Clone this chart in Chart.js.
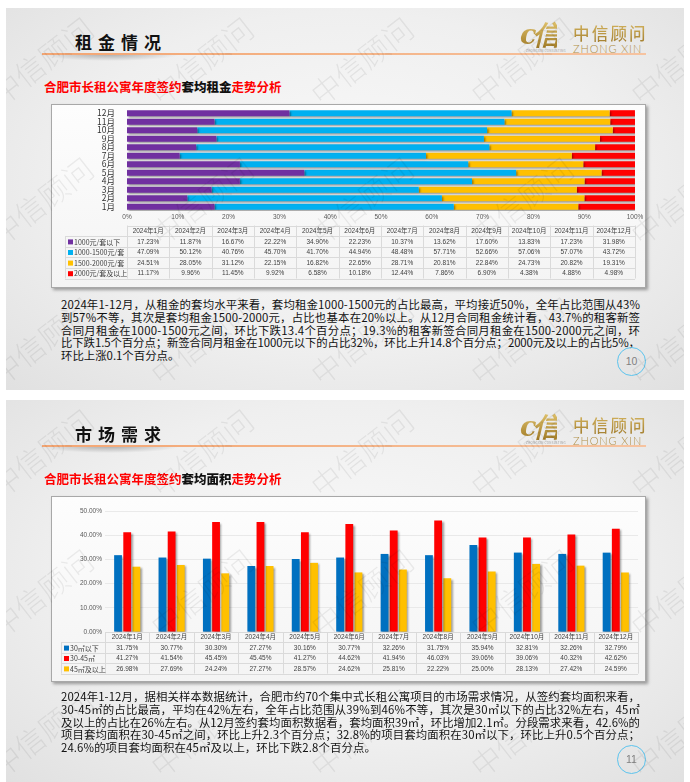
<!DOCTYPE html>
<html><head><meta charset="utf-8">
<script src="https://cdn.jsdelivr.net/npm/chart.js@4.4.1/dist/chart.umd.min.js"></script>
<style>
html,body{margin:0;padding:0;background:#fff;width:690px;height:782px;overflow:hidden;font-family:"Noto Sans CJK SC","Noto Sans",sans-serif;}
.slide{position:absolute;left:6px;width:678px;height:382px;overflow:hidden;
  background:radial-gradient(ellipse 75% 80% at 50% 45%, #f9f9f9 0%, #efefef 55%, #dfdfdf 100%);}
.title{position:absolute;left:69px;top:23px;font-size:17px;font-weight:bold;letter-spacing:6px;color:#111;line-height:22px;white-space:nowrap;}
.oline{position:absolute;left:36px;top:45px;width:604px;height:1.5px;background:linear-gradient(to right,#f3a674,#f4b183 40%,#f6c3a0);}
.oshadow{position:absolute;left:34px;top:46px;width:140px;height:7px;background:radial-gradient(ellipse 50% 100% at 50% 0%,rgba(0,0,0,0.28),rgba(0,0,0,0) 100%);}
.logo1{position:absolute;left:514px;top:12px;font-family:"DejaVu Serif",serif;font-style:italic;font-weight:bold;font-size:27px;line-height:30px;letter-spacing:-3px;
  background:linear-gradient(#e2c46e,#9c7622);-webkit-background-clip:text;background-clip:text;color:transparent;}
.logotiny{position:absolute;left:520px;top:41px;font-size:3px;color:#999;letter-spacing:0.3px;}
.logo2{position:absolute;left:567px;top:14px;font-size:16.5px;letter-spacing:2.2px;line-height:22px;font-weight:500;
  background:linear-gradient(#d6b660,#a07b2c);-webkit-background-clip:text;background-clip:text;color:transparent;white-space:nowrap;}
.logo3{position:absolute;left:567px;top:34px;font-family:"Lato","Liberation Sans",sans-serif;font-weight:300;font-size:11px;letter-spacing:0.9px;line-height:14px;color:#b08f48;white-space:nowrap;}
.sub{position:absolute;left:38px;top:70px;font-size:12.5px;font-weight:bold;line-height:18px;white-space:nowrap;color:#ff0000;}
.sub b{color:#111;}
.box{position:absolute;left:45px;top:96px;width:593px;border:1px solid #a8a8a8;box-shadow:2px 2px 3px rgba(0,0,0,0.35);
  background:linear-gradient(to bottom,#fdfdfd,#f4f4f4);}
.box canvas{display:block;}
.para{position:absolute;left:55px;top:290px;font-size:11.4px;line-height:12.8px;color:#111;}
.para span{display:block;white-space:nowrap;}
.circle{position:absolute;width:27px;height:27px;border:1.5px solid #5cc4ee;border-radius:50%;text-align:center;line-height:27px;font-family:"Liberation Sans",sans-serif;font-size:10.5px;color:#808080;}
.wm{position:absolute;font-size:30px;color:rgba(0,0,0,0.065);transform:rotate(-38deg);white-space:nowrap;pointer-events:none;font-weight:300;}
</style></head>
<body>
<div class="slide" id="s1" style="top:8px;">
  <div class="title">租金情况</div>
  <div class="oshadow"></div><div class="oline"></div>
  <div class="logo1">c信</div><div class="logotiny">ZHONGXIN CONSULTING</div>
  <div class="logo2">中信顾问</div><div class="logo3">ZHONG XIN</div>
  <div class="sub">合肥市长租公寓年度签约<b>套均租金</b>走势分析</div>
  <div class="box" style="height:182px;"><canvas id="c1" width="593" height="182"></canvas></div>
  <div class="para"><span>2024年1-12月，从租金的套均水平来看，套均租金1000-1500元的占比最高，平均接近50%，全年占比范围从43%</span><span>到57%不等，其次是套均租金1500-2000元，占比也基本在20%以上。从12月合同租金统计看，43.7%的租客新签</span><span>合同月租金在1000-1500元之间，环比下跌13.4个百分点；19.3%的租客新签合同月租金在1500-2000元之间，环</span><span>比下跌1.5个百分点；新签合同月租金在1000元以下的占比32%，环比上升14.8个百分点；2000元及以上的占比5%，</span><span>环比上涨0.1个百分点。</span></div>
  <div class="circle" style="left:611px;top:339px;">10</div>
</div>
<div class="slide" id="s2" style="top:400px;">
  <div class="title">市场需求</div>
  <div class="oshadow"></div><div class="oline"></div>
  <div class="logo1">c信</div><div class="logotiny">ZHONGXIN CONSULTING</div>
  <div class="logo2">中信顾问</div><div class="logo3">ZHONG XIN</div>
  <div class="sub">合肥市长租公寓年度签约<b>套均面积</b>走势分析</div>
  <div class="box" style="height:184px;"><canvas id="c2" width="593" height="184"></canvas></div>
  <div class="para"><span>2024年1-12月，据相关样本数据统计，合肥市约70个集中式长租公寓项目的市场需求情况，从签约套均面积来看，</span><span>30-45㎡的占比最高，平均在42%左右，全年占比范围从39%到46%不等，其次是30㎡以下的占比32%左右，45㎡</span><span>及以上的占比在26%左右。从12月签约套均面积数据看，套均面积39㎡，环比增加2.1㎡。分段需求来看，42.6%的</span><span>项目套均面积在30-45㎡之间，环比上升2.3个百分点；32.8%的项目套均面积在30㎡以下，环比上升0.5个百分点；</span><span>24.6%的项目套均面积在45㎡及以上，环比下跌2.8个百分点。</span></div>
  <div class="circle" style="left:611px;top:345px;">11</div>
</div>
<script>
// ---- data ----
const months = ['1月','2月','3月','4月','5月','6月','7月','8月','9月','10月','11月','12月'];
const tableHeader = ['2024年1月','2024年2月','2024年3月','2024年4月','2024年5月','2024年6月','2024年7月','2024年8月','2024年9月','2024年10月','2024年11月','2024年12月'];
const rentSeriesNames = ['1000元/套以下','1000-1500元/套','1500-2000元/套','2000元/套及以上'];
const rentBelow1000 = [17.23,11.87,16.67,22.22,34.90,22.23,10.37,13.62,17.60,13.83,17.23,31.98];
const rent1000to1500 = [47.09,50.12,40.76,45.70,41.70,44.94,48.48,57.71,52.66,57.06,57.07,43.72];
const rent1500to2000 = [24.51,28.05,31.12,22.15,16.82,22.65,28.71,20.81,22.84,24.73,20.82,19.31];
const rent2000plus = [11.17,9.96,11.45,9.92,6.58,10.18,12.44,7.86,6.90,4.38,4.88,4.98];
const rentTicks = ['0%','10%','20%','30%','40%','50%','60%','70%','80%','90%','100%'];

const areaSeriesNames = ['30㎡以下','30-45㎡','45㎡及以上'];
const areaBelow30 = [31.75,30.77,30.30,27.27,30.16,30.77,32.26,31.75,35.94,32.81,32.26,32.79];
const area30to45 = [41.27,41.54,45.45,45.45,41.27,44.62,41.94,46.03,39.06,39.06,40.32,42.62];
const area45plus = [26.98,27.69,24.24,27.27,28.57,24.62,25.81,22.22,25.00,28.13,27.42,24.59];
const areaTicks = ['0.00%','10.00%','20.00%','30.00%','40.00%','50.00%'];

// ---- watermarks ----
['s1','s2'].forEach(id=>{
  const s=document.getElementById(id);
  [50,190,330].forEach(y=>[35,195,355,515,675].forEach(x=>{
    const d=document.createElement('div'); d.className='wm'; d.textContent='中信顾问';
    d.style.left=(x-60)+'px'; d.style.top=(y-20)+'px'; s.appendChild(d);
  }));
});

// ---- justify paragraph lines to the slide text width ----
function justify(){
  const TARGET=579;
  document.querySelectorAll('.para').forEach(p=>{
    const spans=[...p.querySelectorAll('span')]; let last=0;
    spans.forEach((sp,k)=>{
      const n=[...sp.textContent].length;
      if(k<spans.length-1){
        sp.style.display='inline-block'; const w=sp.getBoundingClientRect().width; sp.style.display='block';
        last=(TARGET-w)/(n-1); sp.style.letterSpacing=last+'px';
      } else sp.style.letterSpacing=Math.max(0,last)+'px';
    });
  });
}

const CJK='"Noto Sans CJK SC", sans-serif';
const shadowPlugin={id:'barShadow',
  beforeDatasetsDraw(chart){const c=chart.ctx;c.save();c.shadowColor='rgba(0,0,0,0.38)';c.shadowBlur=2;c.shadowOffsetX=1.5;c.shadowOffsetY=1.5;},
  afterDatasetsDraw(chart){chart.ctx.restore();}};

const tablePlugin={id:'dataTable',
  afterDraw(chart,args,o){
    const ctx=chart.ctx, ca=chart.chartArea, n=o.header.length, colW=(ca.right-ca.left)/n;
    const centers=o.header.map((_,i)=>o.useScale?chart.scales.x.getPixelForValue(i):ca.left+colW*(i+0.5));
    const top=o.top!=null?o.top:ca.bottom, rh=o.rowH, rows=chart.data.datasets, bottom=top+rh*(rows.length+1);
    const px=v=>Math.round(v)+0.5;
    ctx.save();
    if(o.tickLabels){
      const sx=chart.scales.x; ctx.font=o.tickFont; ctx.fillStyle=o.tickColor; ctx.textAlign='center'; ctx.textBaseline='middle';
      sx.ticks.forEach((t,i)=>ctx.fillText(o.tickLabels[i],sx.getPixelForValue(t.value),ca.bottom+o.tickOffset));
    }
    ctx.strokeStyle=o.lineColor; ctx.lineWidth=1; ctx.beginPath();
    ctx.moveTo(ca.left,px(top)); ctx.lineTo(ca.right,px(top));
    for(let k=1;k<=rows.length+1;k++){const y=px(top+rh*k);ctx.moveTo(o.labelLeft,y);ctx.lineTo(ca.right,y);}
    ctx.moveTo(px(o.labelLeft),top+rh); ctx.lineTo(px(o.labelLeft),bottom);
    for(let i=0;i<=n;i++){const x=px(ca.left+colW*i);ctx.moveTo(x,top);ctx.lineTo(x,bottom);}
    ctx.stroke();
    ctx.font=o.font; ctx.textBaseline='middle'; ctx.fillStyle=o.textColor; ctx.textAlign='center';
    o.header.forEach((h,i)=>ctx.fillText(h,centers[i],top+rh/2+0.5));
    rows.forEach((ds,r)=>{
      const y=top+rh*(r+1)+rh/2+0.5;
      ctx.fillStyle=o.textColor; ctx.textAlign='center'; ctx.font=o.font;
      ds.data.forEach((v,i)=>ctx.fillText(v.toFixed(2)+'%',centers[i],y));
      ctx.fillStyle=ds.backgroundColor; ctx.fillRect(o.labelLeft+o.swatchX,y-2.5,5,5);
      ctx.fillStyle=o.textColor; ctx.textAlign='left'; ctx.font=o.labelFont;
      ctx.fillText(ds.label,o.labelLeft+o.swatchX+6,y);
    });
    ctx.restore();
  }};

function draw(){
  justify();
  Chart.defaults.font.family=CJK;
  new Chart(document.getElementById('c1'),{
    type:'bar',
    data:{labels:months,datasets:[
      {label:rentSeriesNames[0],data:rentBelow1000,backgroundColor:'#7030A0'},
      {label:rentSeriesNames[1],data:rent1000to1500,backgroundColor:'#00B0F0'},
      {label:rentSeriesNames[2],data:rent1500to2000,backgroundColor:'#FFC000'},
      {label:rentSeriesNames[3],data:rent2000plus,backgroundColor:'#FF0000'}]},
    options:{indexAxis:'y',responsive:false,animation:false,devicePixelRatio:1,
      layout:{padding:{left:0,right:10,top:4,bottom:64}},
      datasets:{bar:{barPercentage:0.72,categoryPercentage:1,borderWidth:0}},
      plugins:{legend:{display:false},tooltip:{enabled:false},
        dataTable:{header:tableHeader,top:120.5,rowH:10.6,labelLeft:13,swatchX:3,lineColor:'#dadada',textColor:'#404040',
          font:'6.5px "Liberation Sans", '+CJK,labelFont:'7px '+CJK,useScale:false,
          tickLabels:rentTicks,tickFont:'6.5px "Liberation Sans", sans-serif',tickColor:'#595959',tickOffset:6}},
      scales:{
        x:{stacked:true,min:0,max:100,grid:{display:false},border:{display:false},
          ticks:{stepSize:10,display:false},
          afterFit:s=>{s.height=12;s.paddingLeft=0;s.paddingRight=0;}},
        y:{stacked:true,reverse:true,grid:{display:false},border:{display:false},
          ticks:{padding:4,color:'#333',font:{size:8.5},autoSkip:false},afterFit:s=>{s.width=75;s.paddingTop=0;s.paddingBottom=0;}}
      }},
    plugins:[shadowPlugin,tablePlugin]
  });
  new Chart(document.getElementById('c2'),{
    type:'bar',
    data:{labels:tableHeader,datasets:[
      {label:areaSeriesNames[0],data:areaBelow30,backgroundColor:'#0070C0'},
      {label:areaSeriesNames[1],data:area30to45,backgroundColor:'#FF0000'},
      {label:areaSeriesNames[2],data:area45plus,backgroundColor:'#FFC000'}]},
    options:{responsive:false,animation:false,devicePixelRatio:1,
      layout:{padding:{left:0,right:7,top:14,bottom:49}},
      datasets:{bar:{barPercentage:0.85,categoryPercentage:0.62,borderWidth:0}},
      plugins:{legend:{display:false},tooltip:{enabled:false},
        dataTable:{header:tableHeader,rowH:10.4,labelLeft:9,swatchX:3,lineColor:'#dadada',textColor:'#404040',
          font:'6.5px "Liberation Sans", '+CJK,labelFont:'7px '+CJK,useScale:true}},
      scales:{
        x:{grid:{display:false},border:{display:false},ticks:{display:false},afterFit:s=>{s.height=0;}},
        y:{min:0,max:50,grid:{color:'#e4e4e4',lineWidth:0.8,drawTicks:false},border:{display:false},
          ticks:{stepSize:10,padding:3,color:'#595959',font:{size:6.5,family:'"Liberation Sans", sans-serif'},callback:(v,i)=>areaTicks[i]},
          afterFit:s=>{s.width=53;}}
      }},
    plugins:[shadowPlugin,tablePlugin]
  });
}
(document.fonts&&document.fonts.load?Promise.all([document.fonts.load('12px "Noto Sans CJK SC"'),document.fonts.load('12px "Liberation Sans"')]).catch(()=>{}):Promise.resolve()).then(draw);
</script>
</body></html>
